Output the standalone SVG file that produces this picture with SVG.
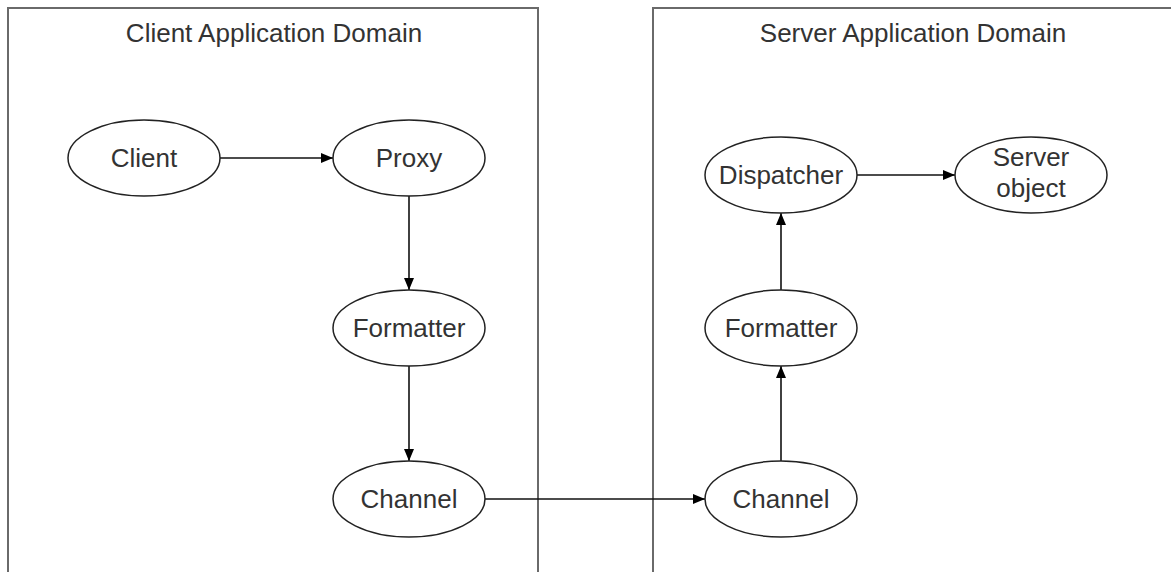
<svg xmlns="http://www.w3.org/2000/svg" width="1171" height="572" viewBox="0 0 1171 572">
<style>
.dom{fill:none;stroke:#6a6a6a;stroke-width:2}
.node{fill:#fff;stroke:#222;stroke-width:1.5}
.t{font-family:"Liberation Sans",Arial,sans-serif;font-size:26px;fill:#333;text-anchor:middle}
.c{fill:none;stroke:#111;stroke-width:1.6;marker-end:url(#ah)}
</style>
<defs>
<marker id="ah" viewBox="0 0 12 10" refX="12" refY="5" markerWidth="12" markerHeight="10" markerUnits="userSpaceOnUse" orient="auto">
<path d="M0,0 L12,5 L0,10 z" fill="#000"/>
</marker>
</defs>
<rect width="1171" height="572" fill="#fff"/>
<g id="client-domain">
<path class="dom" d="M8,580 V8 H538 V580"/>
<text class="t" x="274" y="42">Client Application Domain</text>
</g>
<g id="server-domain">
<path class="dom" d="M653,580 V8 H1180"/>
<text class="t" x="913" y="42">Server Application Domain</text>
</g>
<g id="connectors">
<line class="c" x1="220" y1="158" x2="333" y2="158"/>
<line class="c" x1="409" y1="196" x2="409" y2="290"/>
<line class="c" x1="409" y1="366" x2="409" y2="461"/>
<line class="c" x1="485" y1="499" x2="705" y2="499"/>
<line class="c" x1="781" y1="461" x2="781" y2="366"/>
<line class="c" x1="781" y1="290" x2="781" y2="213"/>
<line class="c" x1="857" y1="175" x2="955" y2="175"/>
</g>
<g id="client">
<ellipse class="node" cx="144" cy="158" rx="76" ry="38"/>
<text class="t" x="144" y="167">Client</text>
</g>
<g id="proxy">
<ellipse class="node" cx="409" cy="158" rx="76" ry="38"/>
<text class="t" x="409" y="167">Proxy</text>
</g>
<g id="formatter-client">
<ellipse class="node" cx="409" cy="328" rx="76" ry="38"/>
<text class="t" x="409" y="337">Formatter</text>
</g>
<g id="channel-client">
<ellipse class="node" cx="409" cy="499" rx="76" ry="38"/>
<text class="t" x="409" y="508">Channel</text>
</g>
<g id="channel-server">
<ellipse class="node" cx="781" cy="499" rx="76" ry="38"/>
<text class="t" x="781" y="508">Channel</text>
</g>
<g id="formatter-server">
<ellipse class="node" cx="781" cy="328" rx="76" ry="38"/>
<text class="t" x="781" y="337">Formatter</text>
</g>
<g id="dispatcher">
<ellipse class="node" cx="781" cy="175" rx="76" ry="38"/>
<text class="t" x="781" y="184">Dispatcher</text>
</g>
<g id="server-object">
<ellipse class="node" cx="1031" cy="175" rx="76" ry="38"/>
<text class="t" x="1031" y="166">Server</text>
<text class="t" x="1031" y="197">object</text>
</g>
</svg>
